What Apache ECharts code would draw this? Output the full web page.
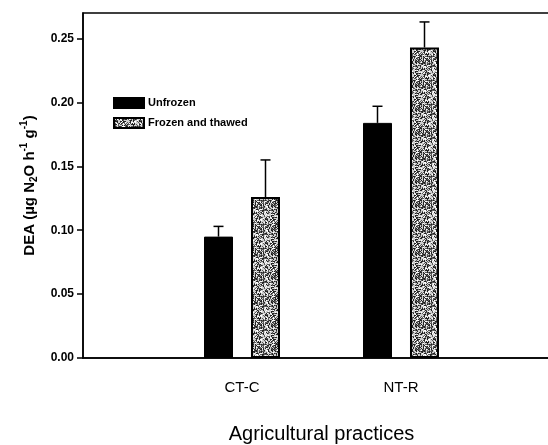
<!DOCTYPE html>
<html>
<head>
<meta charset="utf-8">
<script src="https://cdn.jsdelivr.net/npm/echarts@6/dist/echarts.min.js"></script>
<style>html,body{margin:0;padding:0;background:#fff}#c{width:548px;height:445px}</style>
</head>
<body>
<div id="c"></div>
<script>
var categories = ['CT-C', 'NT-R'];
var seriesNames = ['Unfrozen', 'Frozen and thawed'];
var unfrozen = [0.095, 0.184];
var unfrozenErr = [0.008, 0.013];
var frozen = [0.126, 0.243];
var frozenErr = [0.029, 0.020];
var yTicks = [0, 0.05, 0.10, 0.15, 0.20, 0.25];

// speckled texture (style only)
function makePattern() {
  var c = document.createElement('canvas');
  c.width = 24; c.height = 24;
  var ctx = c.getContext('2d');
  ctx.fillStyle = '#cfcfcf';
  ctx.fillRect(0, 0, 24, 24);
  var s = 12345;
  for (var i = 0; i < 24; i++) {
    for (var j = 0; j < 24; j++) {
      s = (s * 1103515245 + 12345) & 0x7fffffff;
      var r = (s >> 8) % 100;
      if (r < 50) { ctx.fillStyle = r < 22 ? '#222' : '#5a5a5a'; ctx.fillRect(i, j, 1, 1); }
      else if (r > 88) { ctx.fillStyle = '#fff'; ctx.fillRect(i, j, 1, 1); }
    }
  }
  return c;
}
var pat = { image: makePattern(), repeat: 'repeat' };

var FONT = 'Liberation Sans, Arial, sans-serif';
var barW = 29, gapPx = 18;
var off = (barW + gapPx) / 2;

function errSeries(vals, errs, dx) {
  return {
    type: 'custom',
    z: 5,
    data: vals.map(function (v, i) { return [i + 1, v, errs[i]]; }),
    renderItem: function (params, api) {
      var x = api.value(0), v = api.value(1), e = api.value(2);
      var p0 = api.coord([x, v]);
      var p1 = api.coord([x, v + e]);
      var cx = p0[0] + dx;
      var st = { stroke: '#000', lineWidth: 1.5 };
      return {
        type: 'group',
        children: [
          { type: 'line', shape: { x1: cx, y1: p0[1], x2: cx, y2: p1[1] }, style: st },
          { type: 'line', shape: { x1: cx - 5, y1: p1[1], x2: cx + 5, y2: p1[1] }, style: st }
        ]
      };
    }
  };
}

var chart = echarts.init(document.getElementById('c'));
chart.setOption({
  animation: false,
  backgroundColor: '#fff',
  textStyle: { fontFamily: FONT, color: '#000' },
  grid: { left: 83, top: 13, height: 345, width: 477, outerBoundsMode: 'none', containLabel: false, show: true, borderColor: '#000', borderWidth: 1.5, backgroundColor: 'transparent' },
  legend: {
    orient: 'vertical', left: 113, top: 97, padding: 0, itemWidth: 30, itemHeight: 10, itemGap: 8,
    icon: 'rect',
    textStyle: { fontFamily: FONT, fontWeight: 'bold', fontSize: 11, color: '#000', padding: [0, 0, 0, -1] },
    data: seriesNames
  },
  xAxis: {
    type: 'value', min: 0, max: 3, interval: 1,
    axisLine: { show: true, lineStyle: { color: '#000', width: 1.5 } },
    axisTick: { show: false },
    splitLine: { show: false },
    axisLabel: {
      margin: 22, fontSize: 15, color: '#000', fontFamily: FONT,
      formatter: function (v) { return categories[v - 1] || ''; }
    },
    name: 'Agricultural practices', nameLocation: 'middle', nameGap: 66,
    nameTextStyle: { fontSize: 20, color: '#000', fontFamily: FONT }
  },
  yAxis: {
    type: 'value', min: 0, max: 0.27, interval: 0.05,
    axisLine: { show: true, lineStyle: { color: '#000', width: 1.5 } },
    axisTick: { show: true, length: 6, inside: false, customValues: yTicks, lineStyle: { color: '#000', width: 1.5 } },
    splitLine: { show: false },
    axisLabel: {
      margin: 9, fontSize: 12, fontWeight: 'bold', color: '#000', fontFamily: FONT,
      customValues: yTicks,
      formatter: function (v) { return Number(v).toFixed(2); }
    },
    name: '{b|DEA (µg N}{sub|2}{b|O h}{sup|-1}{b| g}{sup|-1}{b|)}',
    nameLocation: 'middle', nameGap: 42, nameRotate: 90,
    nameTextStyle: {
      rich: {
        b: { fontSize: 15, fontWeight: 'bold', fontFamily: FONT, color: '#000', lineHeight: 20 },
        sub: { fontSize: 10, fontWeight: 'bold', fontFamily: FONT, color: '#000', verticalAlign: 'bottom', lineHeight: 20 },
        sup: { fontSize: 10, fontWeight: 'bold', fontFamily: FONT, color: '#000', verticalAlign: 'top', lineHeight: 20 }
      }
    }
  },
  series: [
    {
      name: seriesNames[0], type: 'bar', barWidth: barW, barGap: (gapPx / barW * 100).toFixed(0) + '%',
      data: unfrozen.map(function (v, i) { return [i + 1, v]; }),
      itemStyle: { color: '#000', borderColor: '#000', borderWidth: 1 }
    },
    {
      name: seriesNames[1], type: 'bar', barWidth: barW,
      data: frozen.map(function (v, i) { return [i + 1, v]; }),
      itemStyle: { color: pat, borderColor: '#000', borderWidth: 2 }
    },
    errSeries(unfrozen, unfrozenErr, -off),
    errSeries(frozen, frozenErr, off)
  ]
});
</script>
</body>
</html>
